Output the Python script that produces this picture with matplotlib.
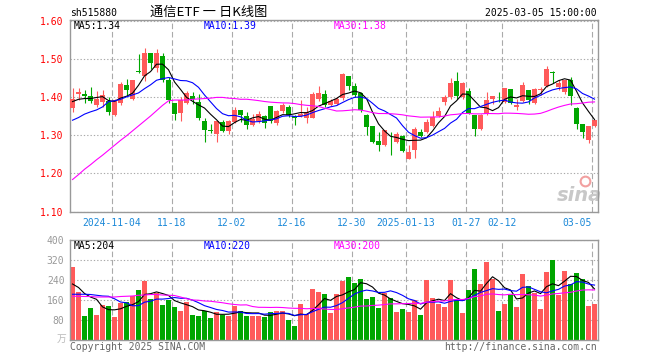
import numpy as np
import pandas as pd
import matplotlib
matplotlib.use("Agg")
import matplotlib.pyplot as plt

# daily bars, 2024-10-24 .. 2025-03-05
opens = [1.371, 1.408, 1.408, 1.403, 1.380, 1.389, 1.390, 1.353, 1.386, 1.432,
         1.397, 1.469, 1.456, 1.516, 1.476, 1.509, 1.446, 1.384, 1.360, 1.386,
         1.403, 1.388, 1.339, 1.313, 1.304, 1.335, 1.312, 1.336, 1.367, 1.351,
         1.327, 1.339, 1.351, 1.377, 1.332, 1.364, 1.375, 1.351, 1.351, 1.347,
         1.347, 1.397, 1.409, 1.379, 1.383, 1.398, 1.456, 1.430, 1.411, 1.354,
         1.325, 1.286, 1.275, 1.297, 1.283, 1.298, 1.237, 1.263, 1.310, 1.310,
         1.325, 1.351, 1.389, 1.400, 1.444, 1.402, 1.418, 1.354, 1.316, 1.356,
         1.395, 1.402, 1.389, 1.421, 1.376, 1.391, 1.419, 1.386, 1.420, 1.430,
         1.467, 1.428, 1.415, 1.447, 1.371, 1.330, 1.288, 1.325]
highs = [1.426, 1.424, 1.419, 1.427, 1.418, 1.420, 1.400, 1.395, 1.440, 1.448,
         1.446, 1.514, 1.530, 1.516, 1.527, 1.518, 1.453, 1.384, 1.400, 1.418,
         1.415, 1.410, 1.346, 1.330, 1.339, 1.340, 1.340, 1.375, 1.367, 1.362,
         1.356, 1.365, 1.354, 1.377, 1.368, 1.386, 1.380, 1.354, 1.393, 1.375,
         1.415, 1.430, 1.419, 1.395, 1.400, 1.463, 1.456, 1.439, 1.415, 1.356,
         1.325, 1.310, 1.314, 1.310, 1.310, 1.301, 1.275, 1.323, 1.316, 1.342,
         1.365, 1.375, 1.406, 1.450, 1.468, 1.441, 1.424, 1.354, 1.356, 1.415,
         1.403, 1.415, 1.424, 1.421, 1.397, 1.441, 1.419, 1.424, 1.428, 1.483,
         1.469, 1.446, 1.447, 1.453, 1.375, 1.330, 1.325, 1.340]
lows = [1.362, 1.393, 1.386, 1.386, 1.375, 1.375, 1.353, 1.352, 1.380, 1.406,
        1.393, 1.463, 1.444, 1.474, 1.468, 1.441, 1.386, 1.340, 1.339, 1.382,
        1.382, 1.340, 1.283, 1.307, 1.283, 1.310, 1.304, 1.332, 1.336, 1.318,
        1.325, 1.334, 1.320, 1.334, 1.328, 1.360, 1.349, 1.327, 1.348, 1.332,
        1.345, 1.391, 1.375, 1.377, 1.380, 1.392, 1.419, 1.402, 1.362, 1.300,
        1.279, 1.260, 1.272, 1.248, 1.279, 1.257, 1.237, 1.240, 1.296, 1.307,
        1.321, 1.348, 1.380, 1.397, 1.397, 1.395, 1.357, 1.298, 1.314, 1.353,
        1.383, 1.388, 1.386, 1.382, 1.367, 1.389, 1.382, 1.382, 1.406, 1.428,
        1.437, 1.419, 1.409, 1.380, 1.318, 1.292, 1.279, 1.321]
closes = [1.395, 1.414, 1.404, 1.391, 1.395, 1.406, 1.362, 1.393, 1.435, 1.419,
          1.446, 1.467, 1.516, 1.491, 1.516, 1.447, 1.393, 1.356, 1.393, 1.412,
          1.395, 1.346, 1.314, 1.312, 1.339, 1.312, 1.339, 1.367, 1.353, 1.328,
          1.344, 1.356, 1.333, 1.339, 1.365, 1.380, 1.353, 1.347, 1.356, 1.362,
          1.409, 1.411, 1.379, 1.390, 1.397, 1.461, 1.430, 1.406, 1.367, 1.321,
          1.283, 1.275, 1.314, 1.296, 1.305, 1.260, 1.257, 1.318, 1.298, 1.336,
          1.349, 1.365, 1.400, 1.437, 1.404, 1.439, 1.360, 1.316, 1.354, 1.393,
          1.403, 1.400, 1.424, 1.386, 1.380, 1.432, 1.393, 1.421, 1.422, 1.475,
          1.465, 1.437, 1.446, 1.404, 1.330, 1.310, 1.325, 1.340]
volumes = [294, 193, 98, 127, 102, 142, 138, 94, 148, 152,
           175, 199, 237, 163, 188, 142, 161, 134, 118, 152,
           102, 95, 118, 89, 111, 100, 98, 138, 115, 95,
           95, 98, 94, 111, 118, 118, 80, 58, 144, 106,
           205, 191, 184, 107, 184, 237, 252, 229, 244, 163,
           171, 130, 190, 167, 114, 126, 114, 161, 102, 240,
           167, 146, 134, 240, 159, 110, 199, 285, 224, 313,
           244, 118, 146, 179, 134, 264, 216, 188, 126, 273,
           321, 179, 277, 224, 268, 244, 138, 146]

# moving-average values before the window is full
ma5_head = [1.389, 1.395, 1.397, 1.397]
ma10_head = [1.340, 1.347, 1.356, 1.362, 1.367, 1.375, 1.389, 1.391, 1.395]
ma30_head = [1.184, 1.197, 1.211, 1.223, 1.236, 1.248, 1.261, 1.274, 1.287, 1.299,
             1.312, 1.325, 1.338, 1.351, 1.365, 1.379, 1.391, 1.393, 1.393, 1.393,
             1.395, 1.396, 1.397, 1.398, 1.400, 1.400, 1.398, 1.397, 1.395]
vma5_head = [224, 210, 186, 172]
vma10_head = [183, 183, 183, 182, 179, 176, 175, 165, 152]
vma30_head = [175, 175, 174, 174, 172, 172, 172, 172, 174, 175,
              176, 179, 180, 182, 182, 180, 179, 178, 172, 165,
              160, 159, 156, 155, 152, 149, 145, 142, 140]

tick_pos = [7, 17, 27, 37, 47, 56, 66, 72, 87]
tick_labels = ['2024-11-04', '11-18', '12-02', '12-16', '12-30',
               '2025-01-13', '01-27', '02-12', '03-05']


def moving(vals, n, head):
    m = pd.Series(vals).rolling(n).mean().to_numpy()
    m[:len(head)] = head
    return m


W, H = 660, 360
RED, GREEN = '#ff5a5a', '#00a600'
MONO = 'DejaVu Sans Mono'


def box(l, t, r, b):
    return [l / W, 1 - b / H, (r - l) / W, (b - t) / H]


def ftext(x, y, s, **kw):
    kw.setdefault('family', MONO)
    kw.setdefault('fontsize', 7)
    kw.setdefault('va', 'center')
    fig.text(x / W, 1 - y / H, s, **kw)


o = np.array(opens)
c = np.array(closes)
x = np.arange(len(o))
up = c >= o
cols = np.where(up, RED, GREEN)

fig = plt.figure(figsize=(6.6, 3.6), dpi=100)
ax = fig.add_axes(box(70, 20, 598, 211.5))
vax = fig.add_axes(box(70, 240, 598, 340))

grid_x = [p - 0.42 for p in tick_pos]
for a in (ax, vax):
    a.set_xlim(-0.42, len(o) - 0.42)
    for s in a.spines.values():
        s.set_color('#999999')
        s.set_linewidth(1.0)
    for g in grid_x:
        a.axvline(g, color='#aaaaaa', lw=0.8, ls=(0, (5, 2.5)), zorder=0)
    a.tick_params(length=0)
    a.yaxis.grid(True, color='#aaaaaa', lw=0.8, ls=(0, (1.2, 1.8)), zorder=0)

# price panel
ax.set_ylim(1.10, 1.6035)
ax.set_yticks([1.1, 1.2, 1.3, 1.4, 1.5, 1.6])
ax.set_yticklabels(['%.2f' % v for v in [1.1, 1.2, 1.3, 1.4, 1.5, 1.6]],
                   color='#ff0000', family=MONO, fontsize=7)
ax.tick_params(axis='y', pad=5)
ax.set_xticks(grid_x)
ax.set_xticklabels(tick_labels, color='#1a88d8', family=MONO, fontsize=7)
ax.tick_params(axis='x', pad=5)
ax.get_xticklabels()[-1].set_ha('right')

ax.vlines(x, lows, highs, colors=cols, lw=0.8, zorder=2)
ax.bar(x, np.maximum(np.abs(c - o), 0.0009), bottom=np.minimum(o, c),
       width=0.83, color=cols, linewidth=0, zorder=3)
ax.plot(x, moving(closes, 5, ma5_head), color='black', lw=0.8, zorder=4)
ax.plot(x, moving(closes, 10, ma10_head), color='#0000ff', lw=0.8, zorder=4)
ax.plot(x, moving(closes, 30, ma30_head), color='#ff00ff', lw=0.8, zorder=4)

ax.text(0.965, 0.085, 'sina', transform=ax.transAxes, ha='center', va='center',
        fontsize=14, fontweight='bold', style='italic', color='#c8c8c8', zorder=1)
ax.plot([0.975], [0.16], transform=ax.transAxes, marker='o', ms=7,
        mfc='none', mec='#f2a0a0', mew=1.5, zorder=1)

# volume panel
vax.set_ylim(0, 400)
vax.set_yticks([80, 160, 240, 320, 400])
vax.set_yticklabels(['80', '160', '240', '320', '400'], color='#999999',
                    family=MONO, fontsize=7)
vax.tick_params(axis='y', pad=4)
vax.set_xticks(grid_x)
vax.set_xticklabels([])
vax.bar(x, volumes, width=0.83, color=cols, linewidth=0, zorder=2)
vax.plot(x, moving(volumes, 5, vma5_head), color='black', lw=0.8, zorder=4)
vax.plot(x, moving(volumes, 10, vma10_head), color='#0000ff', lw=0.8, zorder=4)
vax.plot(x, moving(volumes, 30, vma30_head), color='#ff00ff', lw=0.8, zorder=4)

# header and labels
ftext(70, 13, 'sh515880')
ftext(150, 12, '通信ETF 一 日K线图', family=['Noto Sans CJK SC', 'DejaVu Sans'],
      fontsize=9.5)
ftext(597, 12.5, '2025-03-05 15:00:00', ha='right')

ftext(74, 26, 'MA5:1.34', color='black')
ftext(204, 26, 'MA10:1.39', color='#0000ff')
ftext(334, 26, 'MA30:1.38', color='#ff00ff')
ftext(74, 246, 'MA5:204', color='black')
ftext(204, 246, 'MA10:220', color='#0000ff')
ftext(334, 246, 'MA30:200', color='#ff00ff')

ftext(57, 339, '万', family=['Noto Sans CJK SC', 'DejaVu Sans'],
      color='#bbbbbb', fontsize=7)
ftext(70, 346.5, 'Copyright 2025 SINA.COM', color='#666666')
ftext(597, 346.5, 'http://finance.sina.com.cn', color='#666666', ha='right')

fig.savefig('out.png', dpi=100, facecolor='white')
